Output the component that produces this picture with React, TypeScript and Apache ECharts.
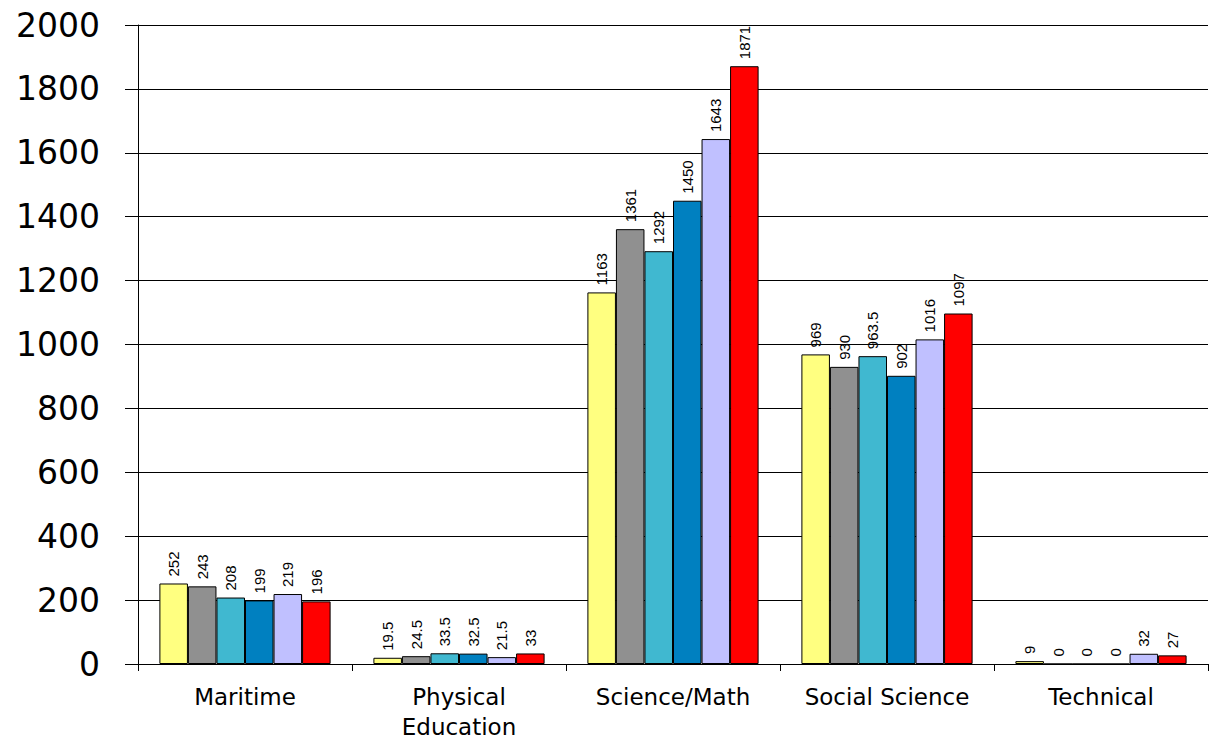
import React, { useEffect, useRef } from "react";
import * as echarts from "echarts";

const categories = ["Maritime", "Physical\nEducation", "Science/Math", "Social Science", "Technical"];
const seriesNames = ["S1", "S2", "S3", "S4", "S5", "S6"];
const seriesColors = ["#FFFF80", "#909090", "#40B8D0", "#0080C0", "#C0C0FF", "#FF0000"];
const s1 = [252, 19.5, 1163, 969, 9];
const s2 = [243, 24.5, 1361, 930, 0];
const s3 = [208, 33.5, 1292, 963.5, 0];
const s4 = [199, 32.5, 1450, 902, 0];
const s5 = [219, 21.5, 1643, 1016, 32];
const s6 = [196, 33, 1871, 1097, 27];
const seriesData = [s1, s2, s3, s4, s5, s6];

const WIDE = "'DejaVu Sans', Arial, sans-serif";
const NARROW = "Arial, 'Liberation Sans', sans-serif";

export default function App() {
  const ref = useRef<HTMLDivElement>(null);
  useEffect(() => {
    if (!ref.current) return;
    const chart = echarts.init(ref.current, null, { renderer: "svg" });
    chart.setOption({
      animation: false,
      backgroundColor: "#fff",
      grid: { left: 138, right: 1, top: 25, bottom: 73, containLabel: false },
      xAxis: {
        type: "category",
        data: categories,
        axisLine: { lineStyle: { color: "#000", width: 1 } },
        axisTick: { show: true, length: 7, lineStyle: { color: "#000" } },
        axisLabel: {
          color: "#000",
          fontFamily: WIDE,
          fontSize: 23,
          margin: 18,
          lineHeight: 30,
          interval: 0,
        },
      },
      yAxis: {
        type: "value",
        min: 0,
        max: 2000,
        interval: 200,
        axisLine: { show: true, lineStyle: { color: "#000", width: 1 } },
        axisTick: { show: true, length: 13, lineStyle: { color: "#000" } },
        splitLine: { show: true, lineStyle: { color: "#000", width: 1 } },
        axisLabel: {
          color: "#000",
          fontFamily: WIDE,
          fontSize: 33,
          margin: 38,
          formatter: (v: number) => String(v),
        },
      },
      series: seriesData.map((d, i) => ({
        type: "bar",
        name: seriesNames[i],
        data: d,
        barGap: "0%",
        barCategoryGap: "20%",
        itemStyle: { color: seriesColors[i], borderColor: "#000", borderWidth: 1 },
        label: {
          show: true,
          position: "top",
          rotate: 90,
          align: "left",
          verticalAlign: "middle",
          distance: 7,
          color: "#000",
          fontFamily: NARROW,
          fontSize: 15,
        },
      })),
    });
    return () => chart.dispose();
  }, []);
  return (
    <div
      ref={ref}
      style={{ position: "fixed", left: 0, top: 0, width: 1209, height: 742 }}
    />
  );
}
